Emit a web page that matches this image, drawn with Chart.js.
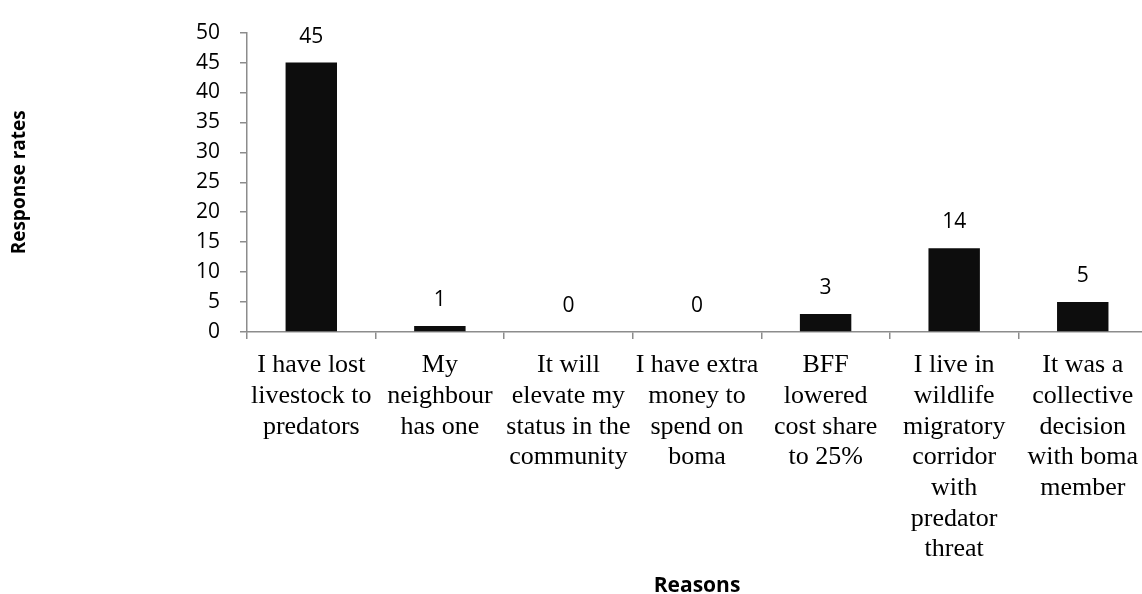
<!DOCTYPE html>
<html>
<head>
<meta charset="utf-8">
<script src="https://cdn.jsdelivr.net/npm/chart.js@4.4.1/dist/chart.umd.min.js"></script>
<style>
  html, body { margin: 0; padding: 0; background: #fff; overflow: hidden; width: 1142px; height: 594px; }
  canvas { display: block; }
</style>
</head>
<body>
<canvas id="c" width="1149" height="594"></canvas>
<script>
const categories = [
  ["I have lost", "livestock to", "predators"],
  ["My", "neighbour", "has one"],
  ["It will", "elevate my", "status in the", "community"],
  ["I have extra", "money to", "spend on", "boma"],
  ["BFF", "lowered", "cost share", "to 25%"],
  ["I live in", "wildlife", "migratory", "corridor", "with", "predator", "threat"],
  ["It was a", "collective", "decision", "with boma", "member"]
];
const responseRates = [45, 1, 0, 0, 3, 14, 5];
const yTitle = "Response rates";
const xTitle = "Reasons";

const axisColor = '#8c8c8c';
const sans = "'Open Sans', sans-serif";
const serif = "'Liberation Serif', 'Times New Roman', serif";

const valueLabels = {
  id: 'valueLabels',
  afterDatasetsDraw(chart) {
    const ctx = chart.ctx;
    ctx.save();
    ctx.font = "21px " + sans;
    ctx.fillStyle = '#000';
    ctx.textAlign = 'center';
    ctx.textBaseline = 'middle';
    chart.data.datasets.forEach((ds, i) => {
      const meta = chart.getDatasetMeta(i);
      meta.data.forEach((bar, j) => {
        ctx.fillText(String(ds.data[j]), bar.x, bar.y - 26);
      });
    });
    ctx.restore();
  }
};

new Chart(document.getElementById('c'), {
  type: 'bar',
  data: {
    labels: categories,
    datasets: [{
      data: responseRates,
      backgroundColor: '#0d0d0d',
      borderColor: '#0d0d0d',
      borderWidth: 0,
      categoryPercentage: 1.0,
      barPercentage: 0.4
    }]
  },
  options: {
    responsive: false,
    animation: false,
    devicePixelRatio: 1,
    layout: { padding: { top: 26, left: 0, right: 0, bottom: 0 } },
    plugins: { legend: { display: false }, tooltip: { enabled: false } },
    scales: {
      x: {
        grid: { display: true, drawOnChartArea: false, drawTicks: true, tickLength: 7, color: axisColor, lineWidth: 1.5, offset: true },
        border: { display: true, color: axisColor, width: 1.5 },
        ticks: {
          autoSkip: false, maxRotation: 0, minRotation: 0, padding: 11,
          color: '#000',
          font: { family: serif, size: 26, lineHeight: 1.18 }
        },
        title: {
          display: true, text: xTitle, color: '#000',
          font: { family: sans, size: 21, weight: 'bold', lineHeight: 0.8 },
          padding: { top: 0, bottom: 0 }
        },
        afterFit(scale) { scale.height = 262; }
      },
      y: {
        min: 0, max: 50,
        grid: { display: true, drawOnChartArea: false, drawTicks: true, tickLength: 7, color: axisColor, lineWidth: 1.5 },
        border: { display: true, color: axisColor, width: 1.5 },
        ticks: {
          stepSize: 5, padding: 20, color: '#000',
          font: { family: sans, size: 21 }
        },
        title: {
          display: true, text: yTitle, color: '#000',
          font: { family: sans, size: 19, weight: 'bold', lineHeight: 1.2 },
          padding: { top: 8, bottom: 0 }
        },
        afterFit(scale) { scale.width = 247; }
      }
    }
  },
  plugins: [valueLabels]
});
</script>
</body>
</html>
